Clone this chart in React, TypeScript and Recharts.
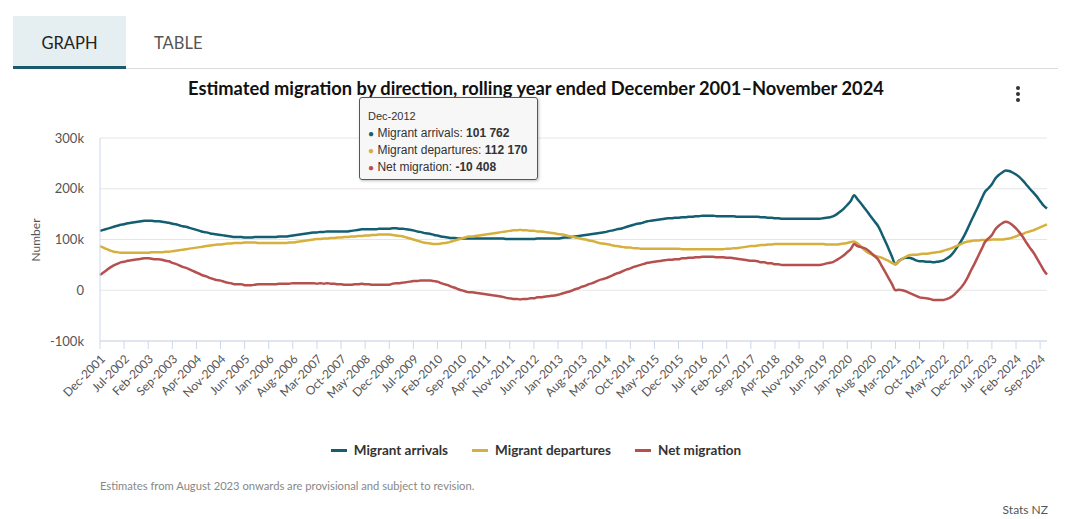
import { CartesianGrid, Line, LineChart, Tooltip, XAxis, YAxis } from "recharts";

// values in thousands, one row per calendar year (Dec-2001 … Nov-2024)
const ARRIVALS = [
  117,
  119, 121, 123, 125, 127, 129, 130, 132, 133, 134, 135, 136,
  137, 137, 137, 136, 136, 135, 134, 133, 131, 130, 128, 126,
  125, 123, 121, 119, 117, 115, 114, 112, 111, 110, 109, 108,
  107, 106, 105, 105, 105, 104, 104, 104, 105, 105, 105, 105,
  105, 105, 105, 106, 106, 106, 107, 108, 109, 110, 111, 112,
  113, 114, 114, 115, 115, 116, 116, 116, 116, 116, 116, 116,
  117, 118, 119, 120, 120, 120, 120, 120, 121, 121, 121, 121,
  122, 122, 121, 121, 120, 119, 118, 116, 115, 113, 112, 111,
  109, 108, 106, 105, 104, 103, 103, 102, 102, 102, 102, 102,
  102, 102, 102, 102, 102, 102, 102, 102, 102, 101, 101, 101,
  101, 101, 101, 101, 101, 101, 102, 102, 102, 102, 102, 101.762,
  102, 103, 104, 104, 105, 106, 107, 108, 109, 110, 111, 112,
  113, 114, 115, 117, 118, 120, 121, 123, 125, 127, 129, 131,
  132, 134, 136, 137, 138, 139, 140, 141, 142, 142, 143, 143,
  144, 144, 145, 145, 146, 146, 147, 147, 147, 147, 146, 146,
  146, 146, 146, 146, 145, 145, 145, 145, 145, 145, 145, 144,
  144, 143, 143, 142, 142, 141, 141, 141, 141, 141, 141, 141,
  141, 141, 141, 141, 141, 142, 143, 144, 146, 150, 155, 161,
  168, 176, 187, 179, 171, 162, 153, 144, 135, 126, 112, 97,
  82, 66, 51, 58, 62, 64, 64, 62, 59, 57, 57, 56,
  56, 55, 56, 57, 59, 63, 68, 76, 86, 96, 108, 122,
  137, 151, 165, 180, 194, 201, 209, 220, 227, 232, 236, 235,
  232, 228, 223, 216, 208, 200, 193, 185, 176, 167, 161,
];

const DEPARTURES = [
  87,
  84, 81, 78, 76, 75, 74, 74, 74, 74, 74, 74, 74,
  74, 74, 75, 75, 75, 75, 76, 76, 77, 78, 79, 80,
  81, 82, 83, 84, 85, 86, 87, 88, 89, 90, 90, 91,
  92, 92, 93, 93, 93, 94, 94, 94, 94, 93, 93, 93,
  93, 93, 93, 93, 93, 93, 94, 94, 95, 96, 97, 98,
  99, 100, 101, 101, 102, 102, 103, 103, 104, 104, 105, 105,
  106, 106, 107, 107, 108, 108, 109, 109, 110, 110, 110, 110,
  109, 108, 107, 106, 104, 102, 100, 98, 96, 94, 93, 92,
  91, 91, 92, 93, 94, 96, 98, 100, 102, 104, 106, 106,
  107, 108, 109, 110, 111, 112, 113, 114, 115, 116, 117, 118,
  118, 119, 118, 118, 117, 117, 116, 116, 115, 114, 113, 112.17,
  111, 110, 109, 107, 106, 104, 103, 101, 100, 98, 97, 95,
  93, 92, 91, 90, 88, 87, 86, 85, 84, 84, 83, 83,
  82, 82, 82, 82, 82, 82, 82, 82, 82, 82, 82, 82,
  81, 81, 81, 81, 81, 81, 81, 81, 81, 81, 81, 81,
  81, 82, 82, 83, 83, 84, 85, 86, 87, 87, 88, 89,
  89, 90, 90, 91, 91, 91, 91, 91, 91, 91, 91, 91,
  91, 91, 91, 91, 91, 91, 90, 90, 90, 90, 91, 92,
  93, 95, 96, 92, 86, 79, 74, 71, 68, 66, 64, 61,
  58, 54, 51, 57, 62, 66, 69, 70, 70, 71, 72, 72,
  73, 74, 75, 76, 78, 80, 82, 85, 88, 91, 94, 96,
  97, 98, 98, 99, 99, 99, 100, 100, 100, 100, 101, 102,
  104, 106, 109, 111, 114, 116, 118, 121, 124, 127, 130,
];

const NET = [
  30,
  35, 40, 45, 49, 52, 55, 56, 58, 59, 60, 61, 62,
  63, 63, 62, 61, 61, 60, 58, 57, 54, 52, 49, 46,
  44, 41, 38, 35, 32, 29, 27, 24, 22, 20, 19, 17,
  15, 14, 12, 12, 12, 10, 10, 10, 11, 12, 12, 12,
  12, 12, 12, 13, 13, 13, 13, 14, 14, 14, 14, 14,
  14, 14, 13, 14, 13, 14, 13, 13, 12, 12, 11, 11,
  11, 12, 12, 13, 12, 12, 11, 11, 11, 11, 11, 11,
  13, 14, 14, 15, 16, 17, 18, 18, 19, 19, 19, 19,
  18, 17, 14, 12, 10, 7, 5, 2, 0, -2, -4, -4,
  -5, -6, -7, -8, -9, -10, -11, -12, -13, -15, -16, -17,
  -17, -18, -17, -17, -16, -16, -14, -14, -13, -12, -11, -10.408,
  -9, -7, -5, -3, -1, 2, 4, 7, 9, 12, 14, 17,
  20, 22, 24, 27, 30, 33, 35, 38, 41, 43, 46, 48,
  50, 52, 54, 55, 56, 57, 58, 59, 60, 60, 61, 61,
  63, 63, 64, 64, 65, 65, 66, 66, 66, 66, 65, 65,
  65, 64, 64, 63, 62, 61, 60, 59, 58, 58, 57, 55,
  55, 53, 53, 51, 51, 50, 50, 50, 50, 50, 50, 50,
  50, 50, 50, 50, 50, 51, 53, 54, 56, 60, 64, 69,
  75, 81, 91, 87, 85, 83, 79, 73, 67, 60, 48, 36,
  24, 12, 0, 1, 0, -2, -5, -8, -11, -14, -15, -16,
  -17, -19, -19, -19, -19, -17, -14, -9, -2, 5, 14, 26,
  40, 53, 67, 81, 95, 102, 109, 120, 127, 132, 135, 133,
  128, 122, 114, 105, 94, 84, 75, 64, 52, 40, 31,
];

const MONTHS = ["Jan", "Feb", "Mar", "Apr", "May", "Jun", "Jul", "Aug", "Sep", "Oct", "Nov", "Dec"];
const Y_TICKS = [-100, 0, 100, 200, 300];

const C_ARR = "#135e70";
const C_DEP = "#d6b03c";
const C_NET = "#b5504f";

// month labels Dec-2001 onwards
const labels: string[] = [];
for (let i = 0; i < ARRIVALS.length; i++) {
  const m = (11 + i) % 12;
  const y = 2001 + Math.floor((11 + i) / 12);
  labels.push(`${MONTHS[m]}-${y}`);
}

const data = labels.map((month, i) => ({
  month,
  arrivals: ARRIVALS[i],
  departures: DEPARTURES[i],
  net: NET[i],
}));

const FONT = "Lato, 'Open Sans', sans-serif";

const fmt = (v: number) =>
  Math.round(v * 1000)
    .toString()
    .replace(/\B(?=(\d{3})+(?!\d))/g, " ");

function XTick({ x, y, payload }: any) {
  return (
    <g transform={`translate(${x + 3},${y + 6})`}>
      <text textAnchor="end" transform="rotate(-45)" fontSize={12} fill="#555" fontFamily={FONT} dy={4}>
        {payload.value}
      </text>
    </g>
  );
}

function TipBox({ active, payload, label }: any) {
  if (!active || !payload || !payload.length) return null;
  return (
    <div
      style={{
        width: 179,
        height: 83,
        boxSizing: "border-box",
        background: "rgba(247,247,247,0.95)",
        border: "1px solid #2f6677",
        borderRadius: 3,
        boxShadow: "1px 1px 3px rgba(0,0,0,0.25)",
        padding: "11px 8px",
        fontFamily: "'Liberation Sans', Arial, sans-serif",
        fontSize: 12,
        color: "#333",
        lineHeight: "17px",
      }}
    >
      <div style={{ fontSize: 11, lineHeight: "14px", marginBottom: 2 }}>{label}</div>
      {payload.map((p: any) => (
        <div key={p.dataKey}>
          <span style={{ color: p.color, fontSize: 10 }}>●</span> {p.name}: <b>{fmt(p.value)}</b>
        </div>
      ))}
    </div>
  );
}

function LegendItem({ color, text }: { color: string; text: string }) {
  return (
    <span style={{ display: "inline-flex", alignItems: "center", margin: "0 12px" }}>
      <span style={{ width: 16, height: 3, background: color, display: "inline-block", marginRight: 7 }} />
      <span style={{ fontWeight: 700, fontSize: 13.5, color: "#333" }}>{text}</span>
    </span>
  );
}

export default function App() {
  return (
    <div style={{ position: "absolute", left: 0, top: 0, width: 1070, height: 519, background: "#fff", fontFamily: FONT }}>
      {/* tabs */}
      <div style={{ position: "absolute", left: 13, top: 16, width: 113, height: 50, background: "#e5eef1" }} />
      <div style={{ position: "absolute", left: 13, top: 66, width: 113, height: 3, background: "#1b5a6c" }} />
      <div style={{ position: "absolute", left: 126, top: 68, width: 932, height: 1, background: "#dcdcdc" }} />
      <div style={{ position: "absolute", left: 13, top: 33, width: 113, textAlign: "center", fontSize: 16.5, color: "#222" }}>GRAPH</div>
      <div style={{ position: "absolute", left: 154, top: 33, fontSize: 16.5, color: "#555" }}>TABLE</div>

      {/* title */}
      <div style={{ position: "absolute", left: 0, top: 77, width: 1072, textAlign: "center", fontSize: 18.3, fontWeight: 700, color: "#111" }}>
        Estimated migration by direction, rolling year ended December 2001–November 2024
      </div>
      {/* menu */}
      {[88, 94, 100].map((t) => (
        <div key={t} style={{ position: "absolute", left: 1016, top: t - 2, width: 4, height: 4, borderRadius: 2, background: "#333" }} />
      ))}

      {/* y label */}
      <div style={{ position: "absolute", left: 35, top: 240, transform: "translate(-50%,-50%) rotate(-90deg)", fontSize: 12, color: "#555" }}>
        Number
      </div>

      <div style={{ position: "absolute", left: 0, top: 0 }}>
        <LineChart width={1070} height={519} data={data} margin={{ top: 138, right: 23, bottom: 118, left: 0 }}>
          <CartesianGrid vertical={false} stroke="#e6e6e6" />
          <XAxis
            dataKey="month"
            interval={6}
            tickSize={8}
            height={60}
            stroke="#ccd6eb"
            tick={<XTick />}
          />
          <YAxis
            width={100}
            domain={[-100, 300]}
            ticks={Y_TICKS}
            tickLine={false}
            axisLine={{ stroke: "#ccd6eb" }}
            tickMargin={10}
            tick={{ fontSize: 13, fill: "#555", fontFamily: FONT }}
            tickFormatter={(v: number) => (v === 0 ? "0" : `${v}k`)}
          />
          <Tooltip
            content={<TipBox />}
            defaultIndex={132}
            position={{ x: 359, y: 97 }}
            cursor={false}
            isAnimationActive={false}
          />
          <Line type="monotone" dataKey="arrivals" name="Migrant arrivals" stroke={C_ARR} strokeWidth={2.5} dot={false} activeDot={false} isAnimationActive={false} />
          <Line type="monotone" dataKey="departures" name="Migrant departures" stroke={C_DEP} strokeWidth={2.5} dot={false} activeDot={false} isAnimationActive={false} />
          <Line type="monotone" dataKey="net" name="Net migration" stroke={C_NET} strokeWidth={2.5} dot={false} activeDot={false} isAnimationActive={false} />
        </LineChart>
      </div>

      {/* legend */}
      <div style={{ position: "absolute", left: 0, top: 442, width: 1072, display: "flex", justifyContent: "center" }}>
        <LegendItem color={C_ARR} text="Migrant arrivals" />
        <LegendItem color={C_DEP} text="Migrant departures" />
        <LegendItem color={C_NET} text="Net migration" />
      </div>

      <div style={{ position: "absolute", left: 100, top: 479, fontSize: 11.2, color: "#888" }}>
        Estimates from August 2023 onwards are provisional and subject to revision.
      </div>
      <div style={{ position: "absolute", right: 22, top: 502, fontSize: 12, color: "#555" }}>Stats NZ</div>
    </div>
  );
}
